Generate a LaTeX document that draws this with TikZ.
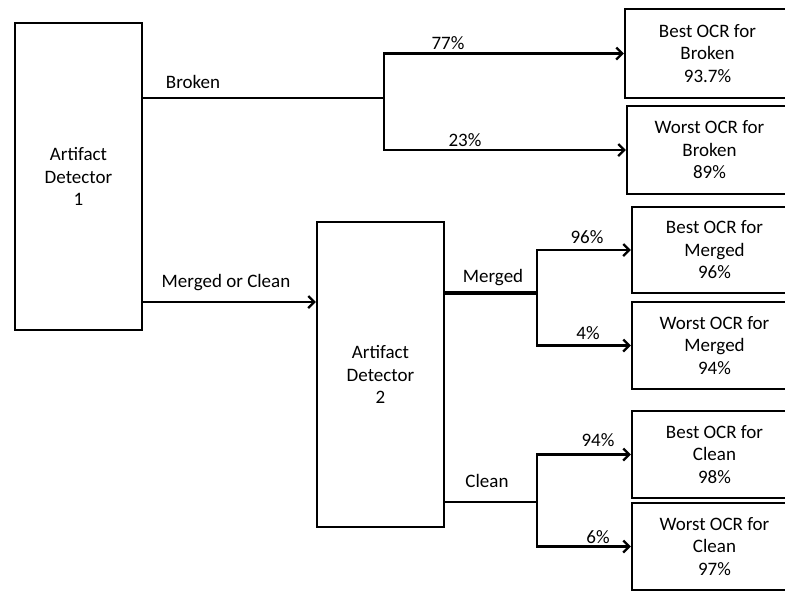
\documentclass[tikz,border=0pt]{standalone}
\usepackage{fontspec}
\setmainfont{Carlito}
\usetikzlibrary{arrows.meta}
\begin{document}
\begin{tikzpicture}[x=1pt,y=-1pt,
  txt/.style={font=\fontsize{19}{22.5}\selectfont},
  box/.style={txt,draw,line width=2.4pt,rectangle,inner sep=0pt,align=center},
  lbl/.style={txt,inner sep=0pt},
  link/.style={line width=2.5pt},
  arr/.style={link,-{Straight Barb[length=6pt,width=12pt,line width=2.2pt]}}]
  \clip (0,0) rectangle (785,592);
  \fill[white] (0,0) rectangle (785,592);

  % detectors
  \node[box,minimum width=127pt,minimum height=307pt] (ad1) at (78.5,176.5) {Artifact\\Detector\\1};
  \node[box,minimum width=127pt,minimum height=305pt] (ad2) at (380.5,374.5) {Artifact\\Detector\\2};

  % OCR result boxes
  \node[box,minimum width=165pt,minimum height=89pt] (b1) at (707.5,53.5) {Best OCR for\\Broken\\93.7\%};
  \node[box,minimum width=165pt,minimum height=88pt] (w1) at (709.5,150) {Worst OCR for\\Broken\\89\%};
  \node[box,minimum width=165pt,minimum height=86pt] (bm) at (714.5,250) {Best OCR for\\Merged\\96\%};
  \node[box,minimum width=165pt,minimum height=87pt] (wm) at (714.5,345.5) {Worst OCR for\\Merged\\94\%};
  \node[box,minimum width=165pt,minimum height=87pt] (bc) at (714.5,454.5) {Best OCR for\\Clean\\98\%};
  \node[box,minimum width=165pt,minimum height=87pt] (wc) at (714.5,546.5) {Worst OCR for\\Clean\\97\%};

  % branch points
  \coordinate (j1) at (384,98);
  \coordinate (mc) at (142,302);
  \coordinate (j2) at (537,293);
  \coordinate (j3) at (537,502);

  % connectors
  \draw[link] (ad1.east |- j1) -- (j1);
  \draw[arr] (j1) |- (b1.west);
  \draw[arr] (j1) |- (w1.west);
  \draw[arr] (mc) -- (mc -| ad2.west);
  \draw[link,line width=3.8pt] (ad2.east |- j2) -- (j2);
  \draw[arr] (j2) |- (bm.west);
  \draw[arr] (j2) |- (wm.west);
  \draw[link] (ad2.east |- j3) -- (j3);
  \draw[arr] (j3) |- (bc.west);
  \draw[arr] (j3) |- (wc.west);

  % labels
  \node[lbl] (lbroken) at (193,82) {Broken};
  \node[lbl] (lmc) at (226,283) {Merged or Clean};
  \node[lbl] (l77) at (448,43) {77\%};
  \node[lbl] (l23) at (465,140) {23\%};
  \node[lbl] (lmerged) at (493,278) {Merged};
  \node[lbl] (l96) at (587,237) {96\%};
  \node[lbl] (l4) at (588,333) {4\%};
  \node[lbl] (lclean) at (487,481) {Clean};
  \node[lbl] (l94) at (598,440) {94\%};
  \node[lbl] (l6) at (598,537) {6\%};
\end{tikzpicture}
\end{document}
